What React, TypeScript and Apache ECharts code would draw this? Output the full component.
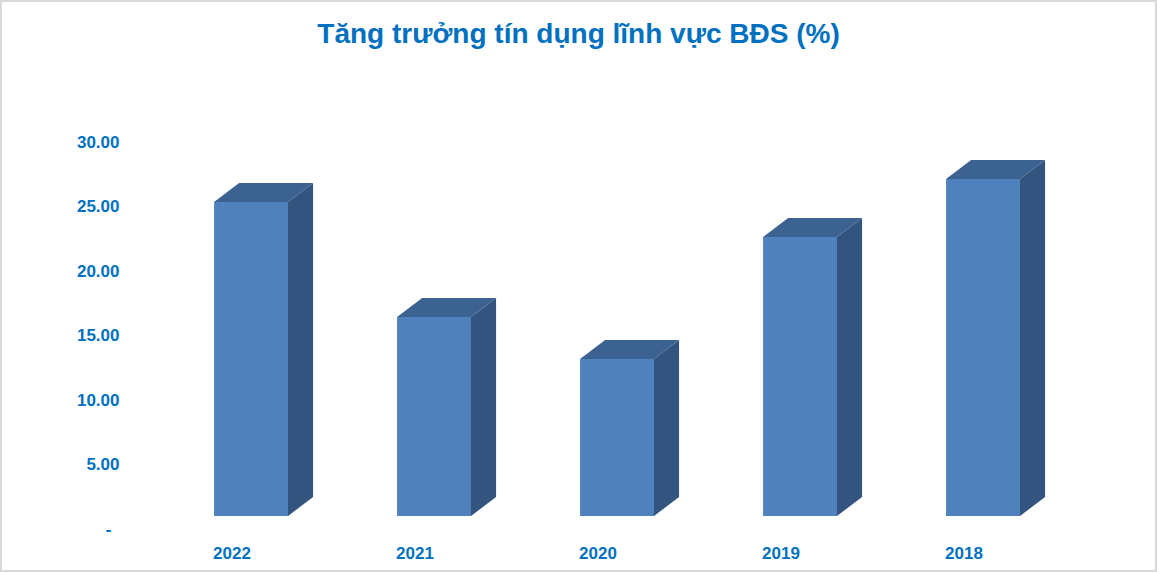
import React, { useEffect, useRef } from "react";
import * as echarts from "echarts";

const TITLE = "Tăng trưởng tín dụng lĩnh vực BĐS (%)";
const categories = ["2022", "2021", "2020", "2019", "2018"];
const values = [25.35, 16.43, 13.18, 22.64, 27.13];
const yTicks = [0, 5, 10, 15, 20, 25, 30];

const BLUE_TEXT = "#0070C0";
const FRONT = "#4F81BD";
const TOP = "#3C6291";
const SIDE = "#33547E";

export default function App() {
  const ref = useRef<HTMLDivElement>(null);
  useEffect(() => {
    document.body.style.margin = "0";
    const chart = echarts.init(ref.current!, null, { renderer: "svg" });
    const font = "'Liberation Sans', Arial, sans-serif";
    chart.setOption({
      animation: false,
      backgroundColor: "#ffffff",
      title: {
        text: TITLE,
        left: "center",
        top: 19,
        padding: 0,
        textStyle: { color: BLUE_TEXT, fontSize: 28, fontWeight: "bold", fontFamily: font },
      },
      graphic: [
        {
          type: "rect",
          shape: { x: 1, y: 1, width: 1155, height: 570 },
          style: { fill: "none", stroke: "#D9D9D9", lineWidth: 2 },
          silent: true,
        },
      ],
      grid: { left: 140.5, right: 101.5, top: 142, bottom: 43, containLabel: false },
      xAxis: {
        type: "category",
        data: categories,
        axisLine: { show: false },
        axisTick: { show: false },
        axisLabel: {
          color: BLUE_TEXT,
          fontSize: 17,
          fontWeight: "bold",
          fontFamily: font,
          margin: 16,
        },
      },
      yAxis: {
        type: "value",
        min: yTicks[0],
        max: yTicks[yTicks.length - 1],
        interval: yTicks[1] - yTicks[0],
        axisLine: { show: false },
        axisTick: { show: false },
        splitLine: { show: false },
        axisLabel: {
          color: BLUE_TEXT,
          fontSize: 17,
          fontWeight: "bold",
          fontFamily: font,
          margin: 21,
          formatter: (v: number) => (v === 0 ? "{d|-}" : v.toFixed(2)),
          rich: {
            d: {
              color: BLUE_TEXT,
              fontSize: 17,
              fontWeight: "bold",
              fontFamily: font,
              padding: [0, 8, 0, 0],
            },
          },
        },
      },
      series: [
        {
          type: "custom",
          data: values.map((v, i) => [i, v]),
          renderItem: (params: any, api: any) => {
            const idx = api.value(0);
            const v = api.value(1);
            const band = api.size([1, 0])[0];
            const [cx, topY] = api.coord([idx, v]);
            const floorLift = 13;
            const base = api.coord([idx, 0])[1] - floorLift;
            const w = band * 0.404;
            const fl = cx - band * 0.098;
            const fr = fl + w;
            const dx = band * 0.137;
            const dy = 19;
            return {
              type: "group",
              children: [
                {
                  type: "polygon",
                  shape: {
                    points: [
                      [fr, topY],
                      [fr + dx, topY - dy],
                      [fr + dx, base - dy],
                      [fr, base],
                    ],
                  },
                  style: { fill: SIDE },
                },
                {
                  type: "polygon",
                  shape: {
                    points: [
                      [fl, topY],
                      [fr, topY],
                      [fr + dx, topY - dy],
                      [fl + dx, topY - dy],
                    ],
                  },
                  style: { fill: TOP },
                },
                {
                  type: "rect",
                  shape: { x: fl, y: topY, width: w, height: base - topY },
                  style: { fill: FRONT },
                },
              ],
            };
          },
        },
      ],
    });
    return () => chart.dispose();
  }, []);
  return <div ref={ref} style={{ width: 1157, height: 572 }} />;
}
